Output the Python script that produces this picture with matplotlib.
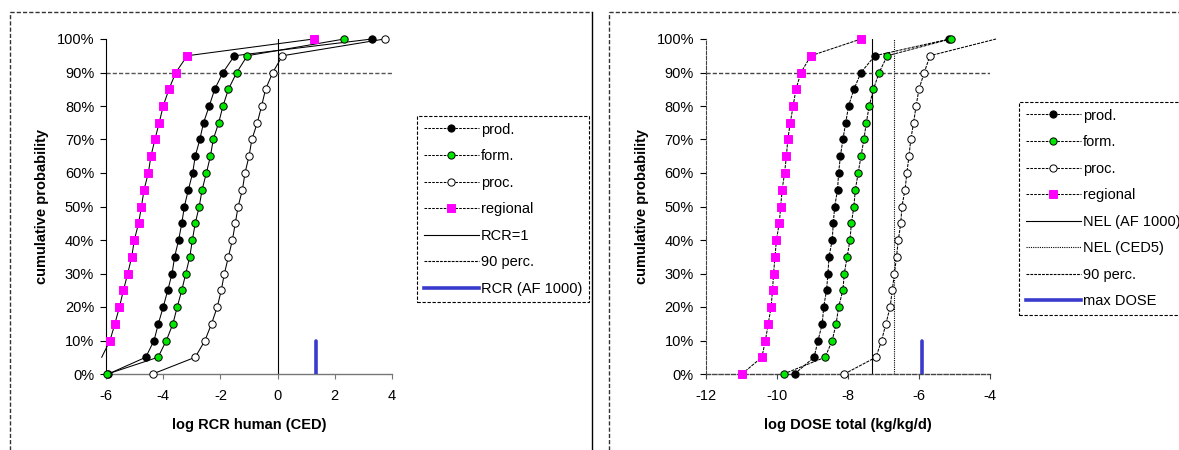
import numpy as np
import matplotlib
matplotlib.use("Agg")
import matplotlib.pyplot as plt
from matplotlib.lines import Line2D
from matplotlib.ticker import PercentFormatter

plt.rcParams['font.family'] = ['Liberation Sans', 'DejaVu Sans']
plt.rcParams['font.size'] = 10.5
plt.rcParams['axes.unicode_minus'] = False

#%% Data

# cumulative probability levels, 0% .. 100% in 5% steps
prob = np.arange(0, 1.0001, 0.05)

# left panel: log RCR human (CED)
rcr_prod = [-5.92, -4.61, -4.32, -4.17, -4.00, -3.84, -3.69, -3.60, -3.46, -3.35, -3.26,
            -3.12, -2.97, -2.88, -2.72, -2.59, -2.39, -2.20, -1.91, -1.51, 3.30]
rcr_form = [-5.95, -4.18, -3.89, -3.66, -3.51, -3.35, -3.21, -3.07, -2.98, -2.88, -2.74,
            -2.64, -2.49, -2.35, -2.25, -2.06, -1.91, -1.72, -1.43, -1.06, 2.33]
rcr_proc = [-4.37, -2.88, -2.54, -2.31, -2.11, -1.97, -1.86, -1.72, -1.58, -1.48, -1.38,
            -1.23, -1.14, -1.00, -0.90, -0.71, -0.56, -0.42, -0.17, 0.17, 3.74]
# 0% of the regional series lies off the chart (not shown)
rcr_regional = [np.nan, -6.15, -5.86, -5.69, -5.53, -5.39, -5.24, -5.10, -5.01, -4.86, -4.76,
                -4.67, -4.52, -4.43, -4.29, -4.14, -4.00, -3.80, -3.56, -3.16, 1.26]
rcr_one = 0.0
rcr_af1000 = 1.34

# right panel: log DOSE total (kg/kg/d)
dose_prod = [-9.50, -8.95, -8.84, -8.72, -8.68, -8.60, -8.56, -8.53, -8.44, -8.41, -8.37,
             -8.29, -8.26, -8.21, -8.14, -8.06, -7.98, -7.83, -7.63, -7.24, -5.14]
dose_form = [-9.81, -8.64, -8.44, -8.33, -8.26, -8.14, -8.10, -8.02, -7.94, -7.90, -7.83,
             -7.79, -7.71, -7.63, -7.55, -7.48, -7.40, -7.28, -7.12, -6.89, -5.11]
dose_proc = [-8.10, -7.21, -7.05, -6.93, -6.81, -6.75, -6.69, -6.63, -6.58, -6.51, -6.48,
             -6.39, -6.34, -6.28, -6.23, -6.15, -6.08, -6.00, -5.85, -5.69, -3.83]
dose_regional = [-10.98, -10.42, -10.32, -10.24, -10.16, -10.12, -10.09, -10.05, -10.01, -9.93, -9.89,
                 -9.85, -9.78, -9.73, -9.69, -9.62, -9.54, -9.46, -9.32, -9.04, -7.63]
nel_af1000 = -7.31
nel_ced5 = -6.69
max_dose = -5.92

perc90 = 0.90
blue_top = 0.10

#%% Styles
series_style = {
    'prod.': dict(marker='o', mfc='black', mec='black', color='black'),
    'form.': dict(marker='o', mfc='#00e600', mec='black', color='black'),
    'proc.': dict(marker='o', mfc='white', mec='black', color='black'),
    'regional': dict(marker='s', mfc='#ff00ff', mec='#ff00ff', color='black'),
}
blue = '#3a3acc'
leg_dash = (0, (2.5, 1.2))


def draw_series(ax, xvals, style, xlim, ls):
    xvals = np.asarray(xvals, dtype=float)
    ax.plot(xvals, prob, color='black', lw=0.75, ls=ls, clip_on=False, zorder=3)
    keep = (xvals >= xlim[0]) & (xvals <= xlim[1])
    ax.plot(xvals[keep], prob[keep], ls='none', marker=style['marker'], ms=5.3,
            mfc=style['mfc'], mec=style['mec'], mew=0.7, clip_on=False, zorder=4)


def style_axes(ax, xlim, xticks, spine_ls, bottom_color):
    ax.set_xlim(xlim)
    ax.set_ylim(0, 1)
    ax.set_xticks(xticks)
    ax.set_yticks(np.arange(0, 1.0001, 0.1))
    ax.yaxis.set_major_formatter(PercentFormatter(1.0, decimals=0))
    ax.spines['top'].set_visible(False)
    ax.spines['right'].set_visible(False)
    ax.spines['left'].set_linestyle(spine_ls)
    ax.spines['left'].set_linewidth(0.8)
    ax.spines['bottom'].set_linestyle(spine_ls)
    ax.spines['bottom'].set_linewidth(1.0)
    ax.spines['bottom'].set_color(bottom_color)
    ax.tick_params(axis='y', direction='out', length=4.5, width=0.8, pad=4, labelsize=10.5)
    ax.tick_params(axis='x', direction='out', length=3.5, width=0.8, pad=7, labelsize=10.5,
                   color=bottom_color)
    ax.set_ylabel('cumulative probability', fontweight='bold', fontsize=10.5)
    ax.yaxis.set_label_coords(-0.2, 0.5)
    ax.xaxis.set_label_coords(0.5, -0.13)


def make_legend(fig, handles, labels, x0, y0):
    leg = fig.legend(handles, labels, loc='upper left',
                     bbox_to_anchor=(x0 / 1179, 1 - y0 / 450), bbox_transform=fig.transFigure,
                     fancybox=False, framealpha=1, edgecolor='black', borderaxespad=0,
                     handlelength=3.8, handletextpad=0.15, labelspacing=0.86, borderpad=0.45,
                     fontsize=10.5)
    leg.get_frame().set_linestyle((0, (3, 1.5)))
    leg.get_frame().set_linewidth(0.8)
    return leg


def series_handles():
    h = []
    for name, st in series_style.items():
        h.append(Line2D([], [], color='black', lw=0.75, ls=leg_dash, marker=st['marker'],
                        ms=5.2 if st['marker'] == 'o' else 5.5, mfc=st['mfc'], mec=st['mec'], mew=0.7))
    return h


#%% Figure
fig = plt.figure(figsize=(11.79, 4.5), dpi=100)

# outer frames of the two charts
fig.add_artist(Line2D([10 / 1179, 10 / 1179], [0, 1 - 12 / 450], transform=fig.transFigure,
                      color='#333333', lw=1, ls=(0, (3, 1.5))))
fig.add_artist(Line2D([10 / 1179, 592 / 1179], [1 - 12 / 450, 1 - 12 / 450], transform=fig.transFigure,
                      color='#333333', lw=1, ls=(0, (3, 1.5))))
fig.add_artist(Line2D([592 / 1179, 592 / 1179], [0, 1 - 12 / 450], transform=fig.transFigure,
                      color='black', lw=1))
fig.add_artist(Line2D([609 / 1179, 609 / 1179], [0, 1 - 12 / 450], transform=fig.transFigure,
                      color='#333333', lw=1, ls=(0, (3, 1.5))))
fig.add_artist(Line2D([609 / 1179, 1], [1 - 12 / 450, 1 - 12 / 450], transform=fig.transFigure,
                      color='#333333', lw=1, ls=(0, (3, 1.5))))

bottom = 1 - 374 / 450
height = 335 / 450

# ----- left: RCR -----
ax1 = fig.add_axes([106 / 1179, bottom, 286 / 1179, height])
xlim1 = (-6, 4)
ax1.axvline(rcr_one, 0, 1, color='black', lw=0.8, zorder=2)
ax1.axhline(perc90, color='#555555', lw=1.0, ls=(0, (3, 1.5)), zorder=2)
ax1.plot([rcr_af1000, rcr_af1000], [0, blue_top], color=blue, lw=2.6, solid_capstyle='round', zorder=5)
for name, xv in zip(series_style, [rcr_prod, rcr_form, rcr_proc, rcr_regional]):
    draw_series(ax1, xv, series_style[name], xlim1, '-')
style_axes(ax1, xlim1, [-6, -4, -2, 0, 2, 4], '-', '#777777')
ax1.spines['left'].set_color('black')
ax1.set_xlabel('log RCR human (CED)', fontweight='bold', fontsize=10.5)

h1 = series_handles() + [
    Line2D([], [], color='black', lw=0.8),
    Line2D([], [], color='black', lw=0.8, ls=(0, (2.5, 1))),
    Line2D([], [], color=blue, lw=2.6),
]
make_legend(fig, h1, list(series_style) + ['RCR=1', '90 perc.', 'RCR (AF 1000)'], 417, 116)

# ----- right: DOSE -----
ax2 = fig.add_axes([705.7 / 1179, bottom, 284.3 / 1179, height])
xlim2 = (-12, -4)
ax2.axvline(nel_af1000, 0, 1, color='black', lw=0.8, zorder=2)
ax2.axvline(nel_ced5, 0, 1, color='black', lw=0.8, ls=(0, (1, 1)), zorder=2)
ax2.axhline(perc90, color='#444444', lw=1.0, ls=(0, (3, 1.5)), zorder=2)
ax2.plot([max_dose, max_dose], [0, blue_top], color=blue, lw=2.6, solid_capstyle='round', zorder=5)
for name, xv in zip(series_style, [dose_prod, dose_form, dose_proc, dose_regional]):
    draw_series(ax2, xv, series_style[name], xlim2, (0, (3, 1)))
style_axes(ax2, xlim2, [-12, -10, -8, -6, -4], (0, (3, 1.5)), '#444444')
ax2.spines['left'].set_color('#444444')
ax2.set_xlabel('log DOSE total (kg/kg/d)', fontweight='bold', fontsize=10.5)

h2 = series_handles() + [
    Line2D([], [], color='black', lw=0.8),
    Line2D([], [], color='black', lw=0.8, ls=(0, (1, 1))),
    Line2D([], [], color='black', lw=0.8, ls=(0, (2.5, 1))),
    Line2D([], [], color=blue, lw=2.6),
]
make_legend(fig, h2, list(series_style) + ['NEL (AF 1000)', 'NEL (CED5)', '90 perc.', 'max DOSE'], 1019, 102)

fig.savefig('out.png', dpi=100)
